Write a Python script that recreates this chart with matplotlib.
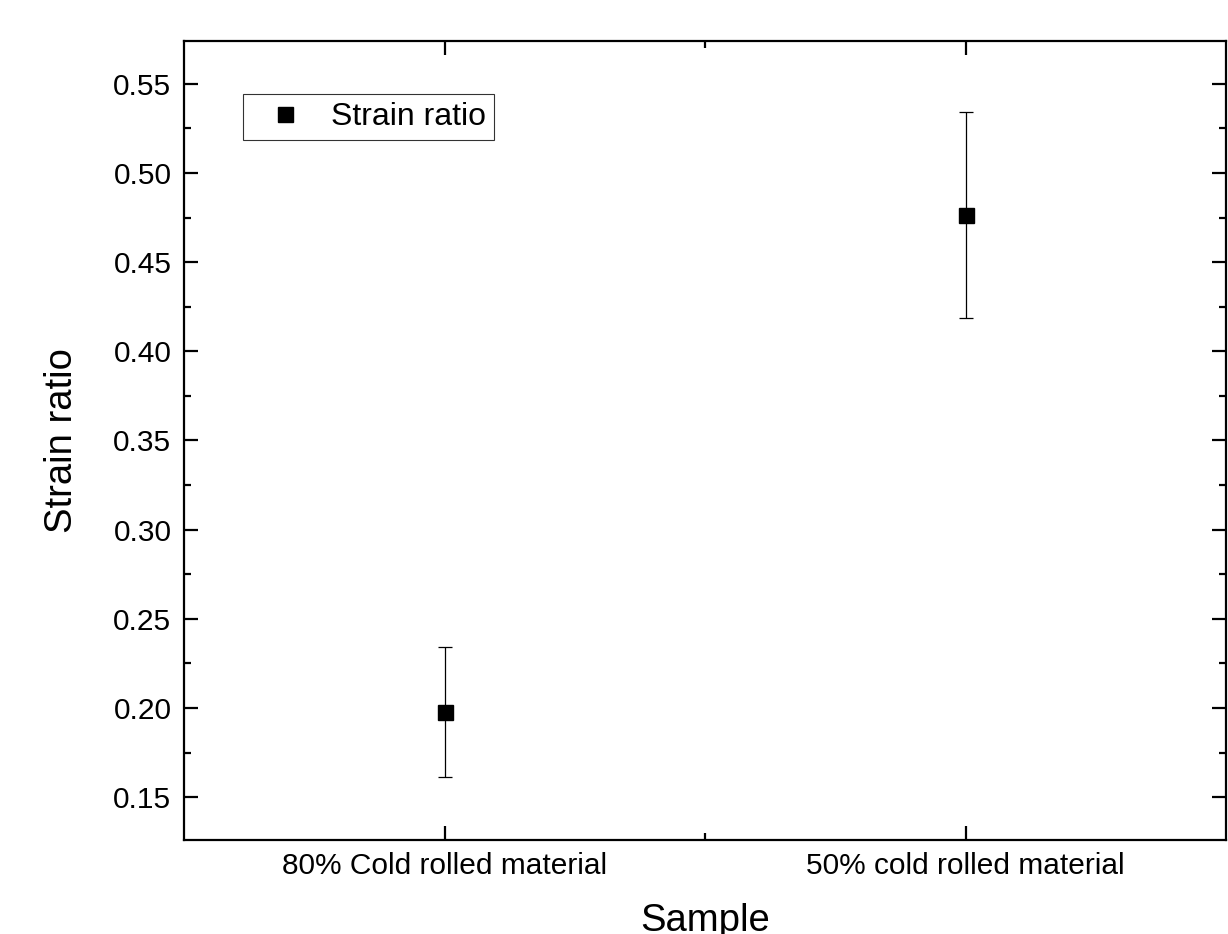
import matplotlib
matplotlib.use("Agg")
import matplotlib.pyplot as plt
from matplotlib.ticker import MultipleLocator, FixedLocator
from matplotlib.lines import Line2D

plt.rcParams['font.family'] = ['Liberation Sans', 'DejaVu Sans']

categories = ["80% Cold rolled material", "50% cold rolled material"]
values = [0.1977, 0.4765]
errors = [0.0365, 0.0578]
series_name = "Strain ratio"

fig = plt.figure(figsize=(12.28, 9.34), dpi=100)
ax = fig.add_axes([184/1228, 1-840/934, (1226-184)/1228, (840-41)/934])

xs = [1, 2]
ax.errorbar(xs, values, yerr=errors, fmt='s', color='black', ms=10.8,
            ecolor='black', elinewidth=0.9, capsize=5, capthick=0.9, zorder=3)

ax.set_xlim(0.5, 2.5)
ax.set_ylim(0.126, 0.574)
ax.set_xticks(xs)
ax.set_xticklabels(categories)
ax.xaxis.set_minor_locator(FixedLocator([1.5]))
ax.yaxis.set_major_locator(MultipleLocator(0.05))
ax.yaxis.set_minor_locator(MultipleLocator(0.025))
ax.yaxis.set_major_formatter(matplotlib.ticker.FormatStrFormatter('%.2f'))

for s in ax.spines.values():
    s.set_linewidth(1.6)
ax.tick_params(which='both', direction='in', top=True, right=True, width=1.6)
ax.tick_params(which='major', length=10, labelsize=21.5, pad=9)
ax.tick_params(which='minor', length=5)

ax.set_xlabel("Sample", fontsize=27.5, labelpad=16)
ax.set_ylabel("Strain ratio", fontsize=27.5, labelpad=24)

handle = Line2D([], [], marker='s', color='black', linestyle='none', markersize=10.8)
leg = ax.legend([handle], [series_name], loc='upper left',
                bbox_to_anchor=(243/1228, 1-94/934), bbox_transform=fig.transFigure,
                fontsize=23, frameon=True, fancybox=False, edgecolor='black',
                borderpad=0.25, handletextpad=0.37, handlelength=2.13, borderaxespad=0)
leg.get_frame().set_linewidth(0.8)

fig.savefig("out.png", dpi=100)
